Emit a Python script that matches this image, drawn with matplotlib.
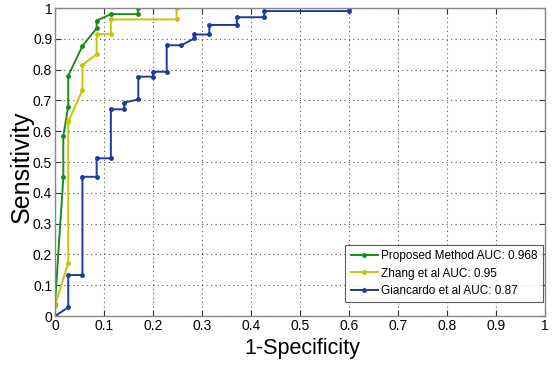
import matplotlib
matplotlib.use("Agg")
import matplotlib.pyplot as plt

plt.rcParams['font.family'] = ['Liberation Sans', 'DejaVu Sans']

prop_x = [0, 0, 0.017, 0.017, 0.027, 0.027, 0.056, 0.085, 0.085, 0.114, 0.169, 0.169]
prop_y = [0, 0.04, 0.45, 0.585, 0.68, 0.78, 0.877, 0.934, 0.959, 0.98, 0.98, 1.0]

zhang_x = [0, 0, 0.027, 0.027, 0.027, 0.056, 0.056, 0.085, 0.085, 0.114, 0.114, 0.248, 0.248]
zhang_y = [0, 0.033, 0.173, 0.636, 0.63, 0.734, 0.815, 0.85, 0.915, 0.915, 0.963, 0.963, 1.0]

gian_x = [0, 0.027, 0.027, 0.056, 0.056, 0.085, 0.085, 0.114, 0.114, 0.141, 0.141, 0.17, 0.17,
          0.2, 0.2, 0.228, 0.228, 0.258, 0.284, 0.284, 0.315, 0.315, 0.371, 0.371, 0.427,
          0.427, 0.601, 0.601]
gian_y = [0, 0.028, 0.133, 0.133, 0.452, 0.452, 0.512, 0.512, 0.671, 0.671, 0.693, 0.703, 0.777,
          0.777, 0.793, 0.793, 0.879, 0.879, 0.901, 0.914, 0.914, 0.945, 0.945, 0.97, 0.97,
          0.99, 0.99, 1.0]

labels = ['Proposed Method AUC: 0.968', 'Zhang et al AUC: 0.95', 'Giancardo et al AUC: 0.87']
colors = ['#1b8c1b', '#c8c40a', '#1f3b9b']
ticks = [0, 0.1, 0.2, 0.3, 0.4, 0.5, 0.6, 0.7, 0.8, 0.9, 1]
tick_labels = ['0', '0.1', '0.2', '0.3', '0.4', '0.5', '0.6', '0.7', '0.8', '0.9', '1']

fig = plt.figure(figsize=(5.53, 3.67), dpi=100)
ax = fig.add_axes([55/553, 51/367, 490/553, 308/367])

for xs, ys, lab, c in zip([prop_x, zhang_x, gian_x], [prop_y, zhang_y, gian_y], labels, colors):
    ax.plot(xs, ys, '-', marker='.', markersize=5, color=c, lw=1.4, label=lab)

ax.set_xlim(0, 1)
ax.set_ylim(0, 1)
ax.set_xticks(ticks)
ax.set_yticks(ticks)
ax.set_xticklabels(tick_labels, fontsize=10)
ax.set_yticklabels(tick_labels, fontsize=10)
ax.tick_params(direction='in', top=True, right=True, length=4, width=0.8, colors='#333333', labelcolor='black', pad=2)
ax.grid(True, linestyle=(0, (1, 3)), color='#555555', linewidth=0.8)
for s in ax.spines.values():
    s.set_color('#888888')
    s.set_linewidth(1.0)

ax.set_xlabel('1-Specificity', fontsize=15.5)
ax.set_ylabel('Sensitivity', fontsize=18)
ax.xaxis.set_label_coords(0.505, -0.07)
ax.yaxis.set_label_coords(-0.043, 0.485)

leg = ax.legend(loc='lower right', fontsize=8.5, frameon=True, fancybox=False,
                handlelength=2.3, handletextpad=0.3, borderpad=0.45, labelspacing=0.45,
                borderaxespad=0.0, bbox_to_anchor=(0.996, 0.045))
leg.get_frame().set_edgecolor('#333333')
leg.get_frame().set_linewidth(0.8)

fig.savefig('out.png', dpi=100)
